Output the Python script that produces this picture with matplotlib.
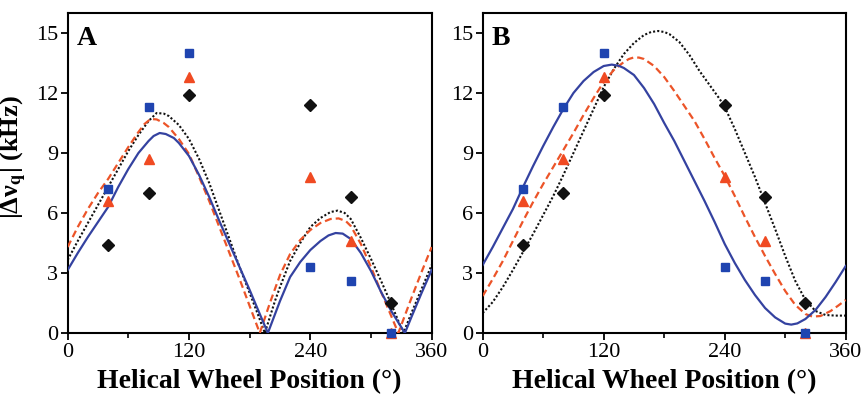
import matplotlib
matplotlib.use("Agg")
import matplotlib.pyplot as plt

# ---------------- data ----------------
positions = [40, 80, 120, 240, 280, 320]
blue_pts = [7.2, 11.3, 14.0, 3.3, 2.6, 0.0]
red_pts = [6.6, 8.7, 12.8, 7.8, 4.6, 0.0]
black_pts = [4.4, 7.0, 11.9, 11.4, 6.8, 1.5]

# Panel A fit curves
a_blue_x = [0, 10, 20, 30, 40, 50, 60, 70, 80, 85, 91, 97, 105, 110, 120, 130, 140, 150, 160, 170, 180, 190, 198,
            210, 220, 230, 240, 250, 258, 265, 272, 280, 290, 300, 310, 320, 333.5, 340, 350, 360]
a_blue_y = [3.15, 4.0, 4.8, 5.55, 6.3, 7.3, 8.2, 9.0, 9.6, 9.85, 10.0, 9.95, 9.75, 9.5, 8.85, 7.9, 6.8, 5.6, 4.45, 3.3, 2.15, 0.95, 0.0,
            1.6, 2.8, 3.55, 4.15, 4.6, 4.88, 5.0, 4.97, 4.7, 4.0, 3.1, 2.05, 1.1, 0.0, 0.8, 2.0, 3.15]
a_red_x = [0, 10, 20, 30, 40, 50, 60, 70, 76, 82, 88, 95, 100, 110, 120, 130, 140, 150, 160, 170, 180, 190,
           200, 210, 220, 230, 240, 250, 260, 268, 275, 280, 290, 300, 310, 320, 327, 340, 350, 360]
a_red_y = [4.3, 5.3, 6.2, 7.0, 7.7, 8.5, 9.3, 10.05, 10.45, 10.7, 10.68, 10.5, 10.3, 9.7, 8.95, 7.8, 6.6, 5.3, 4.0, 2.7, 1.35, 0.0,
           1.5, 2.9, 3.95, 4.65, 5.15, 5.5, 5.7, 5.73, 5.6, 5.35, 4.45, 3.3, 2.05, 0.85, 0.0, 1.75, 3.05, 4.3]
a_black_x = [0, 10, 20, 30, 40, 50, 60, 70, 80, 88, 95, 100, 110, 120, 130, 140, 150, 160, 170, 180, 188, 195,
             205, 210, 220, 230, 240, 250, 260, 267, 274, 280, 290, 300, 310, 320, 332, 340, 350, 360]
a_black_y = [3.65, 4.6, 5.5, 6.4, 7.3, 8.2, 9.1, 9.9, 10.6, 11.0, 10.97, 10.85, 10.4, 9.7, 8.7, 7.5, 6.1, 4.7, 3.3, 2.0, 0.95, 0.0,
             1.6, 2.3, 3.6, 4.5, 5.3, 5.75, 6.05, 6.12, 6.0, 5.7, 4.75, 3.7, 2.6, 1.45, 0.0, 1.0, 2.2, 3.4]

# Panel B fit curves
b_blue_x = [0, 10, 20, 30, 40, 50, 60, 70, 80, 90, 100, 110, 120, 128, 135, 140, 150, 160, 170, 180, 190, 200,
            210, 220, 230, 240, 250, 260, 270, 280, 290, 300, 306, 312, 320, 330, 340, 350, 360]
b_blue_y = [3.4, 4.3, 5.25, 6.2, 7.3, 8.35, 9.35, 10.3, 11.2, 12.0, 12.6, 13.05, 13.35, 13.42, 13.36, 13.25, 12.9, 12.25, 11.45, 10.5, 9.6, 8.6,
            7.6, 6.6, 5.55, 4.45, 3.5, 2.65, 1.9, 1.25, 0.78, 0.47, 0.42, 0.48, 0.7, 1.15, 1.8, 2.55, 3.35]
b_red_x = [0, 10, 20, 30, 40, 50, 60, 70, 80, 90, 100, 110, 120, 130, 140, 145, 150, 155, 160, 170, 180, 190, 200,
           210, 220, 230, 240, 250, 260, 270, 280, 290, 300, 310, 320, 327, 335, 345, 352, 360]
b_red_y = [1.85, 2.7, 3.6, 4.6, 5.6, 6.55, 7.45, 8.3, 9.15, 10.0, 10.9, 11.75, 12.55, 13.15, 13.55, 13.7, 13.78, 13.77, 13.7, 13.35, 12.8, 12.1, 11.35,
           10.6, 9.7, 8.75, 7.85, 6.85, 5.8, 4.8, 3.85, 2.95, 2.1, 1.4, 0.95, 0.82, 0.85, 1.1, 1.35, 1.65]
b_black_x = [0, 10, 20, 30, 40, 50, 60, 70, 80, 90, 100, 110, 120, 130, 140, 150, 160, 167, 174, 180, 185, 195, 205,
             215, 225, 235, 240, 250, 260, 270, 280, 290, 300, 310, 320, 330, 340, 350, 360]
b_black_y = [1.0, 1.55, 2.3, 3.15, 4.05, 4.95, 5.9, 6.85, 7.9, 9.0, 10.1, 11.2, 12.3, 13.2, 13.95, 14.5, 14.9, 15.05, 15.1, 15.05, 14.95, 14.55, 13.9,
             13.1, 12.4, 11.7, 11.3, 10.2, 9.0, 7.8, 6.5, 5.2, 3.85, 2.6, 1.65, 1.1, 0.9, 0.87, 0.87]

x_ticks = [0, 120, 240, 360]
y_ticks = [0, 3, 6, 9, 12, 15]
panel_labels = ["A", "B"]

# ---------------- style ----------------
plt.rcParams['font.family'] = ['Liberation Serif', 'DejaVu Serif']
plt.rcParams['mathtext.fontset'] = 'stix'

BLUE_LINE = '#3442a0'
BLUE_MK = '#1f44b0'
RED_LINE = '#ec5428'
RED_MK = '#f04a22'
BLACK = '#111111'

fig = plt.figure(figsize=(8.63, 3.94), dpi=100)
axA = fig.add_axes([0.0784, 0.1548, 0.4218, 0.8122])
axB = fig.add_axes([0.5593, 0.1548, 0.4207, 0.8122])

curves = {
    axA: (a_blue_x, a_blue_y, a_red_x, a_red_y, a_black_x, a_black_y),
    axB: (b_blue_x, b_blue_y, b_red_x, b_red_y, b_black_x, b_black_y),
}

for ax, lab in zip([axA, axB], panel_labels):
    bx, by, rx, ry, kx, ky = curves[ax]
    ax.plot(kx, ky, color=BLACK, lw=1.5, linestyle=(0, (1.0, 1.0)), zorder=2)
    ax.plot(rx, ry, color=RED_LINE, lw=1.6, linestyle=(0, (3.2, 1.8)), zorder=3)
    ax.plot(bx, by, color=BLUE_LINE, lw=1.6, linestyle='-', zorder=4)

    ax.plot(positions, black_pts, linestyle='none', marker='D', ms=5.8,
            color=BLACK, zorder=6, clip_on=False)
    ax.plot(positions, red_pts, linestyle='none', marker='^', ms=7,
            color=RED_MK, zorder=7, clip_on=False)
    ax.plot(positions, blue_pts, linestyle='none', marker='s', ms=6.3,
            color=BLUE_MK, zorder=8, clip_on=False)

    ax.set_xlim(0, 360)
    ax.set_ylim(0, 16)
    ax.set_xticks(x_ticks)
    ax.set_xticks([60, 180, 300], minor=True)
    ax.set_yticks(y_ticks)
    ax.tick_params(axis='both', which='major', direction='out', length=5, width=1.3,
                   labelsize=16, pad=2, top=False, right=False)
    ax.tick_params(axis='x', which='minor', direction='out', length=3.5, width=1.2,
                   top=False)
    for sp in ax.spines.values():
        sp.set_linewidth(1.5)
    ax.set_xlabel('Helical Wheel Position (°)', fontsize=20, fontweight='bold', labelpad=5)
    ax.text(9, 14.4, lab, fontsize=20, fontweight='bold', ha='left', va='baseline')

axA.set_ylabel('|Δν$_{\\mathbf{q}}$| (kHz)', fontsize=19, fontweight='bold')
axA.yaxis.set_label_coords(-0.105, 0.55)

fig.savefig('out.png', dpi=100)
